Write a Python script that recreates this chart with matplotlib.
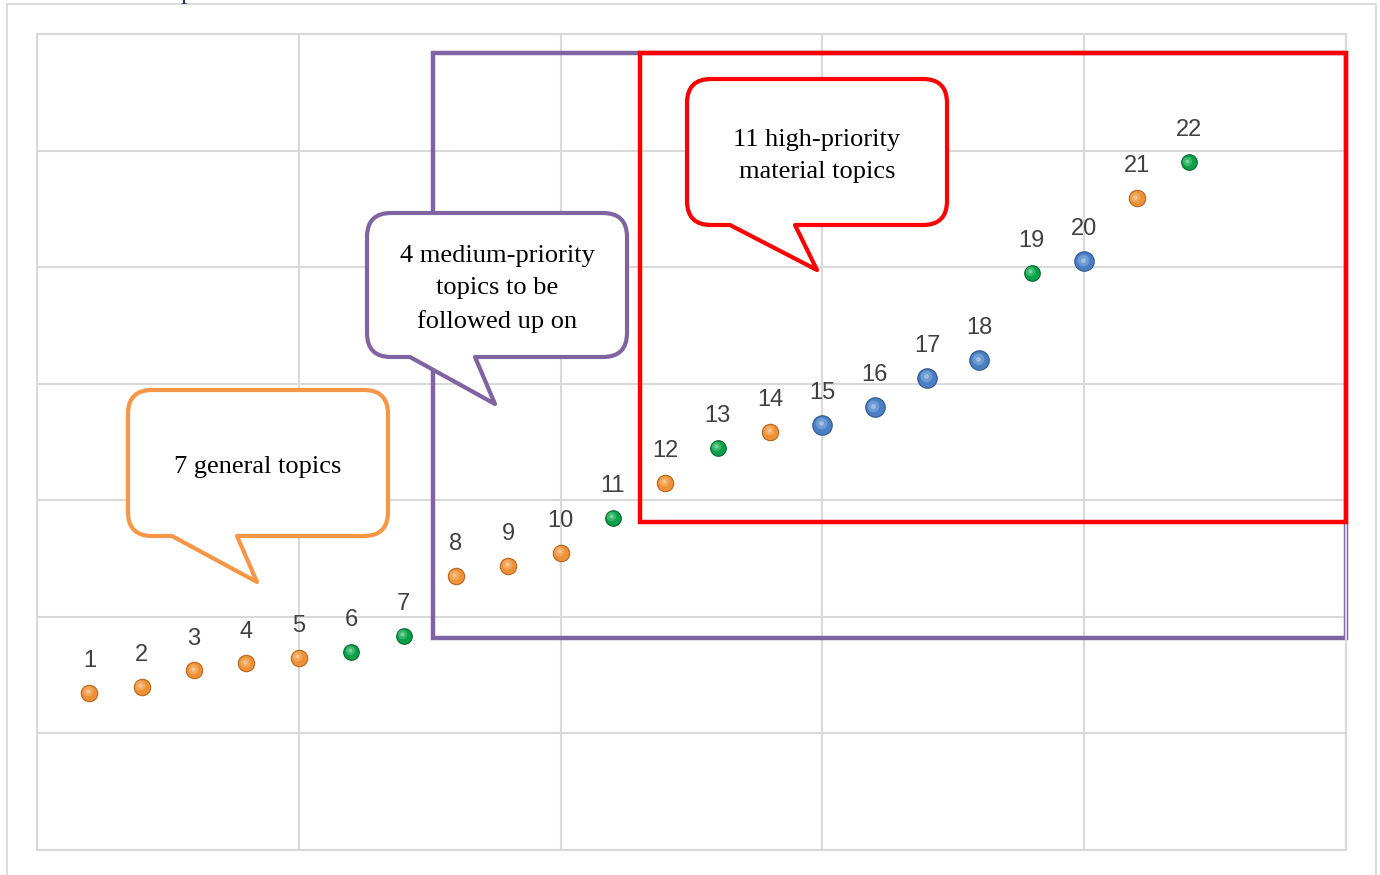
import matplotlib
matplotlib.use("Agg")
import matplotlib.pyplot as plt
from matplotlib.patches import Rectangle, PathPatch
from matplotlib.path import Path
import matplotlib.transforms as mtransforms

# topic scores (x = topic number, y = priority score)
topic_ids = list(range(1, 23))
scores = [1.35, 1.40, 1.54, 1.60, 1.65, 1.70, 1.84, 2.35, 2.44, 2.55, 2.85,
          3.15, 3.45, 3.59, 3.65, 3.80, 4.05, 4.20, 4.95, 5.05, 5.59, 5.90]
groups = ["o", "o", "o", "o", "o", "g", "g", "o", "o", "o", "g",
          "o", "g", "o", "b", "b", "b", "b", "g", "b", "o", "g"]

# callout texts
general_text = "7 general topics"
medium_text = "4 medium-priority\ntopics to be\nfollowed up on"
high_text = "11 high-priority\nmaterial topics"

# sphere colours: base, edge, highlight, marker size
sphere = {
    "o": ("#ee9036", "#b8651c", "#fbc48a", 11.8),
    "g": ("#0aa04a", "#05662c", "#6fd894", 11.2),
    "b": ("#4a7fc4", "#2c5690", "#9dbfe8", 14.0),
}

W, H = 1380, 875
fig = plt.figure(figsize=(W / 100, H / 100), dpi=100)
ax = fig.add_axes([37 / W, 25 / H, 1309 / W, 816 / H])
ax.set_xlim(0, 25)
ax.set_ylim(0, 7)
ax.set_xticks(range(0, 26, 5))
ax.set_yticks(range(0, 8))
ax.set_xticklabels([])
ax.set_yticklabels([])
ax.tick_params(length=0)
ax.grid(True, color="#d9d9d9", lw=1.5)
ax.set_axisbelow(True)
for s in ax.spines.values():
    s.set_color("#d9d9d9")
    s.set_linewidth(1.5)

# outer frame and cut-off heading
fig.patches.append(Rectangle((7 / W, -0.01), 1369 / W, 1.01 - 4 / H,
                             transform=fig.transFigure, fill=False,
                             ec="#d9d9d9", lw=1.3))
fig.text(181 / W, 1 + 1.5 / H, "p", color="#1f3864", fontsize=19,
         family="Liberation Serif", ha="left", va="baseline")

# priority zones
ax.add_patch(Rectangle((7.56, 1.82), 25 - 7.56, 6.84 - 1.82, fill=False,
                       ec="#8064a2", lw=3.2, clip_on=False, zorder=2))
ax.add_patch(Rectangle((11.52, 2.81), 25 - 11.52, 6.84 - 2.81, fill=False,
                       ec="#ff0000", lw=3.2, clip_on=False, zorder=3))

# spheres with a soft highlight
hl = mtransforms.offset_copy(ax.transData, fig=fig, x=-1.5, y=1.5, units="dots")
for x, y, g in zip(topic_ids, scores, groups):
    base, edge, light, ms = sphere[g]
    ax.plot(x, y, "o", ms=ms, mfc=base, mec=edge, mew=0.8, zorder=5)
    ax.plot(x, y, "o", ms=ms * 0.6, mfc=light, mec="none", alpha=0.45,
            transform=hl, zorder=6)
    ax.plot(x, y, "o", ms=ms * 0.25, mfc="white", mec="none", alpha=0.35,
            transform=hl, zorder=7)
    ax.annotate(str(x), (x, y), xytext=(0, 23), textcoords="offset points",
                ha="center", va="center", fontsize=17, color="#404040",
                family="Liberation Sans", zorder=8)

# speech bubbles, in pixel coordinates from the top-left corner
pix = mtransforms.Affine2D().scale(1 / W, -1 / H).translate(0, 1) + fig.transFigure


def bubble(x0, y0, x1, y1, tl, tr, tip, color, text, r=24):
    verts = [(x0 + r, y0), (x1 - r, y0), (x1, y0), (x1, y0 + r),
             (x1, y1 - r), (x1, y1), (x1 - r, y1),
             (tr, y1), tip, (tl, y1), (x0 + r, y1),
             (x0, y1), (x0, y1 - r), (x0, y0 + r), (x0, y0), (x0 + r, y0),
             (x0 + r, y0)]
    codes = [Path.MOVETO, Path.LINETO, Path.CURVE3, Path.CURVE3,
             Path.LINETO, Path.CURVE3, Path.CURVE3,
             Path.LINETO, Path.LINETO, Path.LINETO, Path.LINETO,
             Path.CURVE3, Path.CURVE3, Path.LINETO, Path.CURVE3, Path.CURVE3,
             Path.CLOSEPOLY]
    patch = PathPatch(Path(verts, codes), transform=pix, fc="white", ec=color,
                      lw=3.0, joinstyle="round", zorder=9)
    fig.patches.append(patch)
    fig.text((x0 + x1) / 2 / W, 1 - ((y0 + y1) / 2 + 4) / H, text,
             ha="center", va="center", fontsize=19, family="Liberation Serif",
             color="black", linespacing=1.58, zorder=10)


bubble(128, 390, 388, 536, 172, 237, (257, 582), "#f79646", general_text)
bubble(367, 213, 627, 357, 410, 475, (495, 404), "#8064a2", medium_text)
bubble(687, 79, 947, 225, 730, 795, (817, 270), "#ff0000", high_text)

fig.savefig("out.png", dpi=100)
